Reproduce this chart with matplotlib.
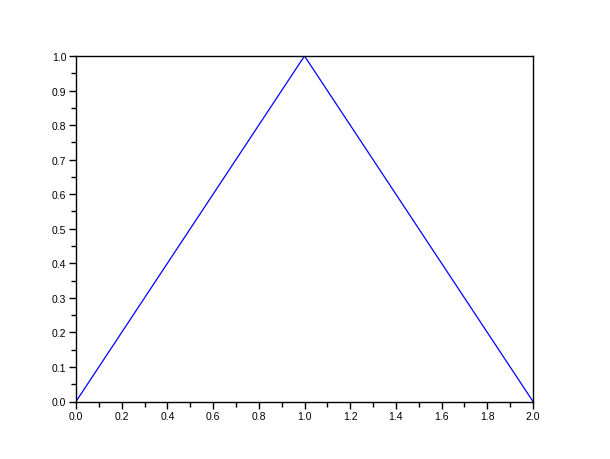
import matplotlib
matplotlib.use("Agg")
import matplotlib.pyplot as plt
from matplotlib.ticker import MultipleLocator, FormatStrFormatter

x = [0.0, 1.0, 2.0]
y = [0.0, 1.0, 0.0]

plt.rcParams['font.family'] = ['Liberation Sans', 'DejaVu Sans']
fig = plt.figure(figsize=(6.1, 4.6), dpi=100)
ax = fig.add_axes([76/610, 57.5/460, (533-76)/610, (402.5-57)/460])
ax.plot(x, y, color='blue', lw=0.9)
ax.set_xlim(0, 2)
ax.set_ylim(0, 1)
ax.xaxis.set_major_locator(MultipleLocator(0.2))
ax.xaxis.set_minor_locator(MultipleLocator(0.1))
ax.yaxis.set_major_locator(MultipleLocator(0.1))
ax.yaxis.set_minor_locator(MultipleLocator(0.05))
ax.xaxis.set_major_formatter(FormatStrFormatter('%.1f'))
ax.yaxis.set_major_formatter(FormatStrFormatter('%.1f'))
ax.tick_params(which='major', direction='out', length=5, width=1, labelsize=7.5, pad=2, top=False, right=False)
ax.tick_params(which='minor', direction='out', length=3.5, width=1, top=False, right=False)
for s in ax.spines.values():
    s.set_linewidth(1)
fig.savefig('out.png', dpi=100)
